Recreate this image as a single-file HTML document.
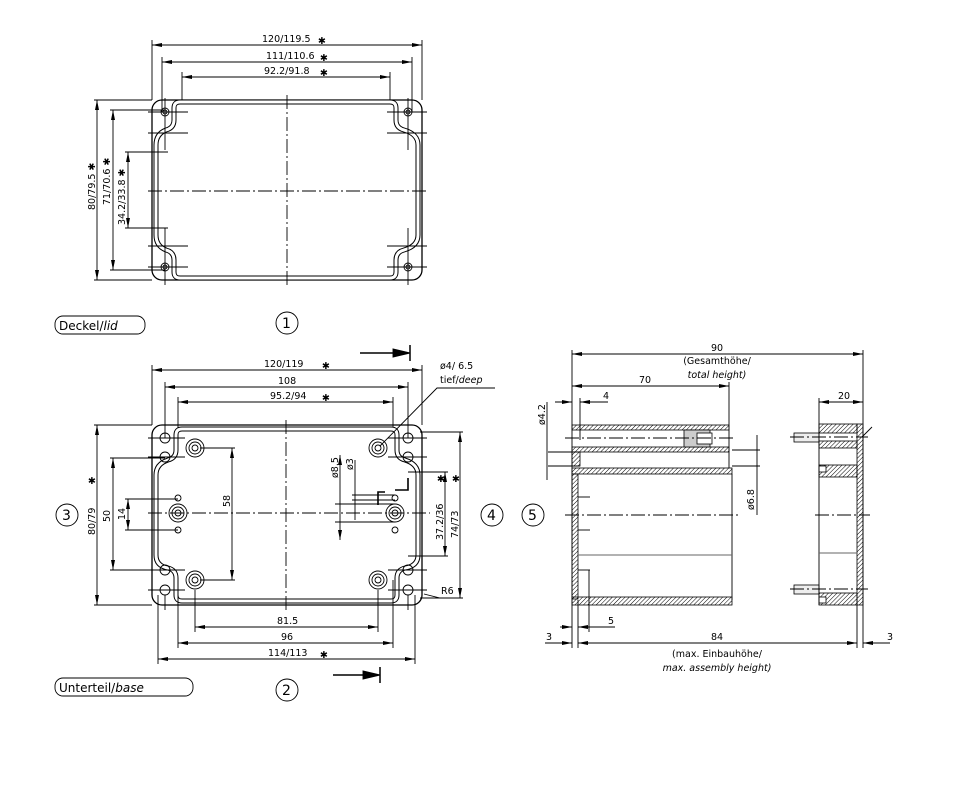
<!DOCTYPE html>
<html><head><meta charset="utf-8"><style>
html,body{margin:0;padding:0;background:#fff}
svg{display:block}
text{font-family:"DejaVu Sans","Liberation Sans",sans-serif;font-size:9.5px;fill:#000}
.it{font-style:italic}
.big{font-size:12px}
.num{font-size:14px}
</style></head><body>
<svg width="960" height="796" viewBox="0 0 960 796" xmlns="http://www.w3.org/2000/svg">
<defs>
<marker id="a" viewBox="0 0 10 4" refX="10" refY="2" markerWidth="10" markerHeight="4" orient="auto-start-reverse" markerUnits="userSpaceOnUse"><path d="M0,0L10,2L0,4z" fill="#000"/></marker>
<pattern id="h" width="3" height="3" patternUnits="userSpaceOnUse" patternTransform="rotate(45)"><line x1="0" y1="0" x2="0" y2="3" stroke="#000" stroke-width="1"/></pattern>
</defs>
<g fill="none" stroke="#000" stroke-width="0.9">
<!-- ===== LID ===== -->
<line x1="152" y1="40" x2="152" y2="100"/><line x1="422" y1="40" x2="422" y2="100"/>
<line x1="162" y1="57" x2="162" y2="112"/><line x1="412" y1="57" x2="412" y2="112"/>
<line x1="182" y1="72" x2="182" y2="104"/><line x1="390" y1="72" x2="390" y2="104"/>
<line x1="152" y1="45" x2="422" y2="45" marker-start="url(#a)" marker-end="url(#a)"/>
<line x1="162" y1="62" x2="412" y2="62" marker-start="url(#a)" marker-end="url(#a)"/>
<line x1="182" y1="77" x2="390" y2="77" marker-start="url(#a)" marker-end="url(#a)"/>
<rect x="152" y="100" width="270" height="180" rx="10" stroke-width="1.3"/>
<path d="M180,102 H390 Q396,102 396,108 V120 Q396,128 404,130 Q418,134 418,145 V235 Q418,246 404,250 Q396,252 396,260 V272 Q396,278 390,278 H180 Q174,278 174,272 V260 Q174,252 166,250 Q156,246 156,235 V145 Q156,134 166,130 Q174,128 174,120 V108 Q174,102 180,102 Z" stroke-width="5"/>
<path d="M180,102 H390 Q396,102 396,108 V120 Q396,128 404,130 Q418,134 418,145 V235 Q418,246 404,250 Q396,252 396,260 V272 Q396,278 390,278 H180 Q174,278 174,272 V260 Q174,252 166,250 Q156,246 156,235 V145 Q156,134 166,130 Q174,128 174,120 V108 Q174,102 180,102 Z" stroke="#fff" stroke-width="3"/>
<circle cx="165" cy="112" r="4"/><circle cx="165" cy="112" r="2"/>
<circle cx="408" cy="112" r="4"/><circle cx="408" cy="112" r="2"/>
<circle cx="165" cy="267" r="4"/><circle cx="165" cy="267" r="2"/>
<circle cx="408" cy="267" r="4"/><circle cx="408" cy="267" r="2"/>
<line x1="148" y1="112" x2="188" y2="112"/><line x1="387" y1="112" x2="427" y2="112"/>
<line x1="148" y1="133" x2="188" y2="133"/><line x1="387" y1="133" x2="427" y2="133"/>
<line x1="148" y1="246" x2="188" y2="246"/><line x1="387" y1="246" x2="427" y2="246"/>
<line x1="148" y1="267" x2="188" y2="267"/><line x1="387" y1="267" x2="427" y2="267"/>
<line x1="165" y1="98" x2="165" y2="150"/><line x1="408" y1="98" x2="408" y2="150"/>
<line x1="165" y1="228" x2="165" y2="285"/><line x1="408" y1="228" x2="408" y2="285"/>
<line x1="287" y1="95" x2="287" y2="285" stroke-dasharray="14,3,2,3"/>
<line x1="148" y1="191" x2="427" y2="191" stroke-dasharray="14,3,2,3"/>
<line x1="94" y1="100" x2="152" y2="100"/><line x1="94" y1="280" x2="152" y2="280"/>
<line x1="110" y1="110" x2="165" y2="110"/><line x1="110" y1="270" x2="165" y2="270"/>
<line x1="125" y1="152" x2="168" y2="152"/><line x1="125" y1="228" x2="168" y2="228"/>
<line x1="97" y1="100" x2="97" y2="280" marker-start="url(#a)" marker-end="url(#a)"/>
<line x1="113" y1="110" x2="113" y2="270" marker-start="url(#a)" marker-end="url(#a)"/>
<line x1="128" y1="152" x2="128" y2="228" marker-start="url(#a)" marker-end="url(#a)"/>
<rect x="55" y="316" width="90" height="18" rx="8"/>
<circle cx="287" cy="323" r="11"/>

<!-- ===== BASE ===== -->
<line x1="152" y1="365" x2="152" y2="425"/><line x1="422" y1="365" x2="422" y2="425"/>
<line x1="165" y1="382" x2="165" y2="438"/><line x1="408" y1="382" x2="408" y2="438"/>
<line x1="178" y1="397" x2="178" y2="430"/><line x1="393" y1="397" x2="393" y2="430"/>
<line x1="152" y1="370" x2="422" y2="370" marker-start="url(#a)" marker-end="url(#a)"/>
<line x1="165" y1="387" x2="408" y2="387" marker-start="url(#a)" marker-end="url(#a)"/>
<line x1="178" y1="402" x2="393" y2="402" marker-start="url(#a)" marker-end="url(#a)"/>
<rect x="152" y="425" width="270" height="180" rx="10" stroke-width="1.3"/>
<path d="M182,429 H391 Q397,429 397,435 V450 Q397,458 405,460 Q418,464 418,475 V555 Q418,566 405,568 Q397,570 397,578 V595 Q397,601 391,601 H182 Q176,601 176,595 V578 Q176,570 168,568 Q156,566 156,555 V475 Q156,464 168,460 Q176,458 176,450 V435 Q176,429 182,429Z" stroke-width="5"/>
<path d="M182,429 H391 Q397,429 397,435 V450 Q397,458 405,460 Q418,464 418,475 V555 Q418,566 405,568 Q397,570 397,578 V595 Q397,601 391,601 H182 Q176,601 176,595 V578 Q176,570 168,568 Q156,566 156,555 V475 Q156,464 168,460 Q176,458 176,450 V435 Q176,429 182,429Z" stroke="#fff" stroke-width="3"/>
<g>
<circle cx="165" cy="438" r="5"/><circle cx="165" cy="457" r="5"/><circle cx="165" cy="570" r="5"/><circle cx="165" cy="590" r="5"/>
<circle cx="408" cy="438" r="5"/><circle cx="408" cy="457" r="5"/><circle cx="408" cy="570" r="5"/><circle cx="408" cy="590" r="5"/>
<circle cx="195" cy="448" r="9"/><circle cx="195" cy="448" r="6"/><circle cx="195" cy="448" r="3"/>
<circle cx="378" cy="448" r="9"/><circle cx="378" cy="448" r="6"/><circle cx="378" cy="448" r="3"/>
<circle cx="195" cy="580" r="9"/><circle cx="195" cy="580" r="6"/><circle cx="195" cy="580" r="3"/>
<circle cx="378" cy="580" r="9"/><circle cx="378" cy="580" r="6"/><circle cx="378" cy="580" r="3"/>
<circle cx="178" cy="513" r="9"/><circle cx="178" cy="513" r="6"/><circle cx="178" cy="513" r="3"/>
<circle cx="395" cy="513" r="9"/><circle cx="395" cy="513" r="6"/><circle cx="395" cy="513" r="3"/>
<circle cx="178" cy="498" r="3"/><circle cx="178" cy="530" r="3"/>
<circle cx="395" cy="498" r="3"/><circle cx="395" cy="530" r="3"/>
</g>
<line x1="148" y1="438" x2="185" y2="438"/><line x1="148" y1="457" x2="185" y2="457"/><line x1="148" y1="570" x2="185" y2="570"/><line x1="148" y1="590" x2="185" y2="590"/>
<line x1="388" y1="438" x2="427" y2="438"/><line x1="388" y1="457" x2="427" y2="457"/><line x1="388" y1="570" x2="427" y2="570"/><line x1="388" y1="590" x2="427" y2="590"/>
<line x1="165" y1="595" x2="165" y2="610"/><line x1="408" y1="595" x2="408" y2="610"/>
<line x1="178" y1="580" x2="178" y2="648"/><line x1="393" y1="580" x2="393" y2="648"/>
<line x1="158" y1="595" x2="158" y2="664"/><line x1="415" y1="595" x2="415" y2="664"/>
<line x1="195" y1="590" x2="195" y2="632"/><line x1="378" y1="590" x2="378" y2="632"/>
<line x1="286" y1="420" x2="286" y2="610" stroke-dasharray="14,3,2,3"/>
<line x1="148" y1="513" x2="430" y2="513" stroke-dasharray="14,3,2,3"/>
<line x1="94" y1="425" x2="152" y2="425"/><line x1="94" y1="605" x2="152" y2="605"/>
<line x1="110" y1="458" x2="165" y2="458"/><line x1="110" y1="570" x2="165" y2="570"/>
<line x1="125" y1="499" x2="178" y2="499"/><line x1="125" y1="530" x2="178" y2="530"/>
<line x1="200" y1="448" x2="235" y2="448"/><line x1="200" y1="580" x2="235" y2="580"/>
<line x1="97" y1="425" x2="97" y2="605" marker-start="url(#a)" marker-end="url(#a)"/>
<line x1="113" y1="458" x2="113" y2="570" marker-start="url(#a)" marker-end="url(#a)"/>
<line x1="128" y1="499" x2="128" y2="530" marker-start="url(#a)" marker-end="url(#a)"/>
<line x1="232" y1="448" x2="232" y2="580" marker-start="url(#a)" marker-end="url(#a)"/>
<line x1="408" y1="472" x2="448" y2="472"/><line x1="408" y1="556" x2="448" y2="556"/>
<line x1="420" y1="432" x2="463" y2="432"/><line x1="420" y1="598" x2="463" y2="598"/>
<line x1="445" y1="472" x2="445" y2="556" marker-start="url(#a)" marker-end="url(#a)"/>
<line x1="460" y1="432" x2="460" y2="598" marker-start="url(#a)" marker-end="url(#a)"/>
<line x1="195" y1="627" x2="378" y2="627" marker-start="url(#a)" marker-end="url(#a)"/>
<line x1="178" y1="643" x2="393" y2="643" marker-start="url(#a)" marker-end="url(#a)"/>
<line x1="158" y1="659" x2="415" y2="659" marker-start="url(#a)" marker-end="url(#a)"/>
<line x1="340" y1="455" x2="340" y2="540" marker-start="url(#a)" marker-end="url(#a)"/>
<line x1="355" y1="460" x2="355" y2="520"/>
<line x1="335" y1="504" x2="395" y2="504"/><line x1="335" y1="522" x2="395" y2="522"/>
<line x1="352" y1="495" x2="395" y2="495"/><line x1="352" y1="500" x2="395" y2="500"/>
<path d="M378,505 V492 H385 M395,490 H408 V478" stroke-width="1.6"/>
<polyline points="380,446 437,388 495,388"/>
<polyline points="424,594 440,598 455,598"/>
<line x1="360" y1="353" x2="395" y2="353" stroke-width="1.5"/><path d="M393,349 L410,353 L393,357z" fill="#000"/>
<line x1="410" y1="345" x2="410" y2="361" stroke-width="1.5"/>
<line x1="333" y1="675" x2="365" y2="675" stroke-width="1.5"/><path d="M363,671 L380,675 L363,679z" fill="#000"/>
<line x1="380" y1="667" x2="380" y2="683" stroke-width="1.5"/>
<rect x="55" y="678" width="138" height="18" rx="8"/>
<circle cx="287" cy="690" r="11"/>
<circle cx="67" cy="515" r="11"/>
<circle cx="492" cy="515" r="11"/>
<circle cx="533" cy="515" r="11"/>

<!-- ===== SIDE VIEW ===== -->
<line x1="572" y1="350" x2="572" y2="648"/>
<line x1="863" y1="350" x2="863" y2="648"/>
<line x1="578" y1="600" x2="578" y2="648"/>
<line x1="857" y1="600" x2="857" y2="648"/>
<line x1="729" y1="382" x2="729" y2="425"/>
<line x1="580" y1="398" x2="580" y2="440"/>
<line x1="819" y1="398" x2="819" y2="425"/>
<line x1="572" y1="354" x2="863" y2="354" marker-start="url(#a)" marker-end="url(#a)"/>
<line x1="572" y1="386" x2="729" y2="386" marker-start="url(#a)" marker-end="url(#a)"/>
<line x1="555" y1="402" x2="572" y2="402" marker-end="url(#a)"/>
<line x1="608" y1="402" x2="580" y2="402" marker-end="url(#a)"/>
<line x1="819" y1="402" x2="863" y2="402" marker-start="url(#a)" marker-end="url(#a)"/>
<line x1="578" y1="643" x2="857" y2="643" marker-start="url(#a)" marker-end="url(#a)"/>
<line x1="545" y1="643" x2="572" y2="643" marker-end="url(#a)"/>
<line x1="890" y1="643" x2="863" y2="643" marker-end="url(#a)"/>
<line x1="560" y1="627" x2="572" y2="627" marker-end="url(#a)"/>
<line x1="615" y1="627" x2="578" y2="627" marker-end="url(#a)"/>
<line x1="589" y1="570" x2="589" y2="632"/>
</g>
<g stroke="#000" stroke-width="0.8">
<rect x="572" y="425" width="157" height="5" fill="url(#h)"/>
<rect x="572" y="447" width="157" height="5" fill="url(#h)"/>
<rect x="572" y="452" width="8" height="14" fill="url(#h)"/>
<rect x="572" y="468" width="160" height="6" fill="url(#h)"/>
<rect x="572" y="474" width="6" height="125" fill="url(#h)"/>
<rect x="572" y="597" width="160" height="8" fill="url(#h)"/>
<rect x="684" y="430" width="26" height="17" fill="#ccc"/>
<rect x="697" y="433" width="15" height="11" fill="#fff"/>
<rect x="857" y="424" width="6" height="181" fill="url(#h)"/>
<rect x="819" y="424" width="38" height="9" fill="url(#h)"/>
<rect x="819" y="441" width="38" height="7" fill="url(#h)"/>
<rect x="819" y="465" width="38" height="12" fill="url(#h)"/>
<rect x="819" y="593" width="38" height="12" fill="url(#h)"/>
<rect x="819" y="466" width="7" height="6" fill="#fff"/>
<rect x="819" y="597" width="7" height="6" fill="#fff"/>
<rect x="794" y="433" width="25" height="9" fill="#eee"/>
<rect x="794" y="585" width="25" height="9" fill="#eee"/>
</g>
<g fill="none" stroke="#000" stroke-width="0.9">
<line x1="732" y1="474" x2="732" y2="600"/>
<line x1="729" y1="425" x2="729" y2="468"/>
<line x1="819" y1="424" x2="819" y2="605"/>
<line x1="578" y1="555" x2="732" y2="555" stroke="#666"/>
<line x1="819" y1="553" x2="857" y2="553" stroke="#666"/>
<line x1="578" y1="497" x2="590" y2="497"/><line x1="578" y1="530" x2="590" y2="530"/>
<line x1="578" y1="570" x2="590" y2="570"/>
<line x1="565" y1="438" x2="735" y2="438" stroke-dasharray="14,3,2,3"/>
<line x1="565" y1="515" x2="738" y2="515" stroke-dasharray="14,3,2,3"/>
<line x1="815" y1="515" x2="870" y2="515" stroke-dasharray="14,3,2,3"/>
<line x1="790" y1="437" x2="868" y2="437" stroke-dasharray="14,3,2,3"/>
<line x1="790" y1="589" x2="868" y2="589" stroke-dasharray="14,3,2,3"/>
<line x1="548" y1="452" x2="580" y2="452"/><line x1="548" y1="466" x2="580" y2="466"/>
<line x1="547" y1="402" x2="547" y2="480"/>
<line x1="732" y1="450" x2="760" y2="450"/><line x1="732" y1="466" x2="760" y2="466"/>
<line x1="757" y1="435" x2="757" y2="515"/>
<line x1="862" y1="437" x2="872" y2="427"/>
</g>
<text x="262" y="42">120/119.5</text><text x="318" y="44">✱</text>
<text x="266" y="59">111/110.6</text><text x="320" y="61">✱</text>
<text x="264" y="74">92.2/91.8</text><text x="320" y="76">✱</text>
<text transform="translate(95,210) rotate(-90)">80/79.5 ✱</text>
<text transform="translate(110,205) rotate(-90)">71/70.6 ✱</text>
<text transform="translate(125,225) rotate(-90)">34.2/33.8 ✱</text>
<text x="59" y="330" class="big">Deckel/<tspan class="it">lid</tspan></text>
<text x="282" y="328" class="num">1</text>
<text x="264" y="367">120/119</text><text x="322" y="369">✱</text>
<text x="278" y="384">108</text>
<text x="270" y="399">95.2/94</text><text x="322" y="401">✱</text>
<text transform="translate(95,535) rotate(-90)">80/79</text><text x="88" y="484">✱</text>
<text transform="translate(110,522) rotate(-90)">50</text>
<text transform="translate(125,520) rotate(-90)">14</text>
<text transform="translate(230,507) rotate(-90)">58</text>
<text transform="translate(443,540) rotate(-90)">37.2/36</text><text x="437" y="482">✱</text>
<text transform="translate(458,538) rotate(-90)">74/73</text><text x="452" y="482">✱</text>
<text transform="translate(338,478) rotate(-90)">ø8.5</text>
<text transform="translate(353,470) rotate(-90)">ø3</text>
<text x="440" y="369">ø4/ 6.5</text>
<text x="440" y="383">tief/<tspan class="it">deep</tspan></text>
<text x="441" y="594">R6</text>
<text x="277" y="624">81.5</text>
<text x="281" y="640">96</text>
<text x="268" y="656">114/113</text><text x="320" y="658">✱</text>
<text x="59" y="692" class="big">Unterteil/<tspan class="it">base</tspan></text>
<text x="282" y="695" class="num">2</text>
<text x="62" y="520" class="num">3</text>
<text x="487" y="520" class="num">4</text>
<text x="528" y="520" class="num">5</text>
<text x="717" y="351" text-anchor="middle">90</text>
<text x="717" y="364" text-anchor="middle">(Gesamthöhe/</text>
<text x="717" y="378" text-anchor="middle" class="it">total height)</text>
<text x="645" y="383" text-anchor="middle">70</text>
<text x="603" y="399">4</text>
<text x="838" y="399">20</text>
<text transform="translate(545,425) rotate(-90)">ø4.2</text>
<text transform="translate(754,510) rotate(-90)">ø6.8</text>
<text x="608" y="624">5</text>
<text x="546" y="640">3</text>
<text x="887" y="640">3</text>
<text x="717" y="640" text-anchor="middle">84</text>
<text x="717" y="657" text-anchor="middle">(max. Einbauhöhe/</text>
<text x="717" y="671" text-anchor="middle" class="it">max. assembly height)</text>
</svg>
</body></html>
